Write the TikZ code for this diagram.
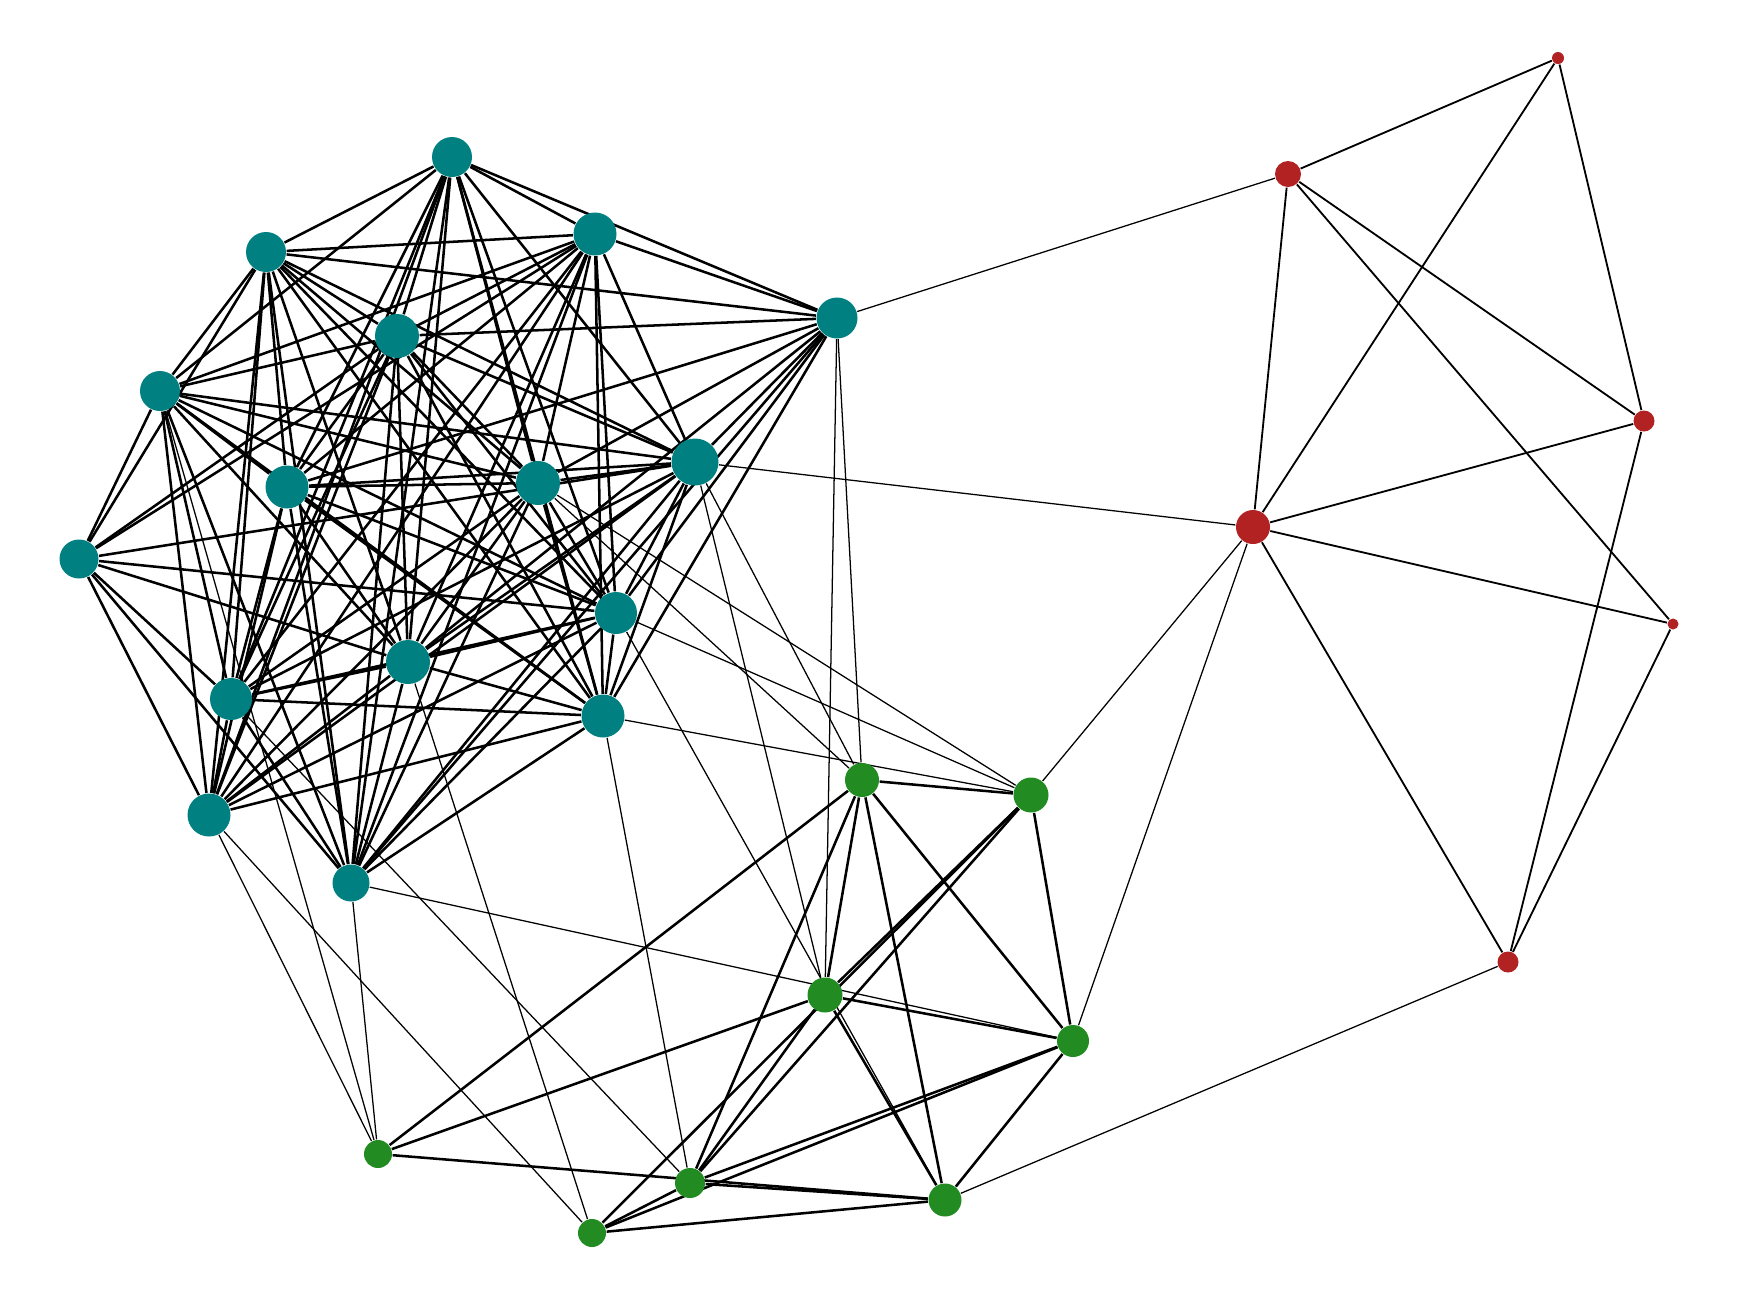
\documentclass[tikz,border=0pt]{standalone}
\usetikzlibrary{backgrounds}
\definecolor{tealc}{HTML}{008080}
\definecolor{greenc}{HTML}{228B22}
\definecolor{redc}{HTML}{B22222}
\begin{document}
\begin{tikzpicture}[x=0.01cm,y=-0.01cm,
  tn/.style={circle,fill=tealc,draw=none,inner sep=0pt,minimum size=#1*0.01cm},
  gn/.style={circle,fill=greenc,draw=none,inner sep=0pt,minimum size=#1*0.01cm},
  rn/.style={circle,fill=redc,draw=none,inner sep=0pt,minimum size=#1*0.01cm},
  ewide/.style={draw=black,line width=0.72pt},
  ered/.style={draw=black,line width=0.52pt},
  ethin/.style={draw=black,line width=0.36pt}]
\useasboundingbox (0,0) rectangle (1753,1293);
% teal
\node[tn=40] (T1) at (452,157) {};
\node[tn=43] (T2) at (595,234) {};
\node[tn=40] (T3) at (266,252) {};
\node[tn=41] (T4) at (837,318) {};
\node[tn=44] (T5) at (397,336) {};
\node[tn=40] (T6) at (160,391) {};
\node[tn=47] (T7) at (695,462) {};
\node[tn=43] (T8) at (287,487) {};
\node[tn=44] (T9) at (538,483) {};
\node[tn=39] (T10) at (79,559) {};
\node[tn=42] (T11) at (616,613) {};
\node[tn=44] (T12) at (408,662) {};
\node[tn=42] (T13) at (231,699) {};
\node[tn=43] (T14) at (603,716) {};
\node[tn=43] (T15) at (209,815) {};
\node[tn=37] (T16) at (351,883) {};
% green
\node[gn=34] (G1) at (862,780) {};
\node[gn=35] (G2) at (1031,795) {};
\node[gn=35] (G3) at (825,995) {};
\node[gn=32] (G4) at (1073,1041) {};
\node[gn=28] (G5) at (378,1154) {};
\node[gn=30] (G6) at (690,1183) {};
\node[gn=33] (G7) at (945,1200) {};
\node[gn=28] (G8) at (592,1233) {};
% red
\node[rn=12] (R1) at (1558,58) {};
\node[rn=26] (R2) at (1288,174) {};
\node[rn=21] (R3) at (1644,421) {};
\node[rn=34] (R4) at (1253,527) {};
\node[rn=11] (R5) at (1673,624) {};
\node[rn=21] (R6) at (1508,962) {};
\begin{pgfonlayer}{background}
\foreach \b in {2,3,4,5,6,7,8,9,11,12,13,14,15,16} \draw[ewide] (T1) -- (T\b);
\foreach \b in {3,4,5,6,7,8,9,10,11,12,13,14,15,16} \draw[ewide] (T2) -- (T\b);
\foreach \b in {4,5,6,7,8,9,10,11,12,13,14,15,16} \draw[ewide] (T3) -- (T\b);
\foreach \b in {5,7,8,9,11,12,14,16} \draw[ewide] (T4) -- (T\b);
\foreach \b in {6,7,8,9,10,11,12,13,14,15,16} \draw[ewide] (T5) -- (T\b);
\foreach \b in {7,8,9,10,11,12,13,14,15,16} \draw[ewide] (T6) -- (T\b);
\foreach \b in {8,9,10,11,12,13,14,15,16} \draw[ewide] (T7) -- (T\b);
\foreach \b in {9,11,12,13,14,15,16} \draw[ewide] (T8) -- (T\b);
\foreach \b in {11,12,13,14,15,16} \draw[ewide] (T9) -- (T\b);
\foreach \b in {11,12,13,15,16} \draw[ewide] (T10) -- (T\b);
\foreach \b in {12,13,14,15,16} \draw[ewide] (T11) -- (T\b);
\foreach \b in {13,14,15,16} \draw[ewide] (T12) -- (T\b);
\foreach \b in {14,15,16} \draw[ewide] (T13) -- (T\b);
\foreach \b in {15,16} \draw[ewide] (T14) -- (T\b);
% green
\foreach \a/\b in {G1/G2,G1/G3,G1/G4,G1/G5,G1/G6,G1/G7,G2/G3,G2/G4,G2/G6,G2/G8,
  G3/G4,G3/G5,G3/G6,G3/G7,G4/G6,G4/G7,G4/G8,G5/G7,G6/G7,G6/G8,G7/G8}
  \draw[ewide] (\a) -- (\b);
% red
\foreach \a/\b in {R1/R2,R1/R4,R1/R3,R2/R4,R2/R3,R2/R5,R3/R4,R3/R6,R4/R5,R4/R6,R5/R6}
  \draw[ered] (\a) -- (\b);
% between groups
\foreach \a/\b in {T4/G1,T4/G3,T7/G1,T7/G3,T9/G1,T9/G2,T11/G2,T11/G7,T14/G2,T14/G6,
  T16/G4,T16/G5,T15/G5,T15/G8,T13/G6,T12/G8,T6/G5,
  T4/R2,T7/R4,R4/G2,R4/G4,R6/G7}
  \draw[ethin] (\a) -- (\b);
\end{pgfonlayer}
\end{tikzpicture}
\end{document}
